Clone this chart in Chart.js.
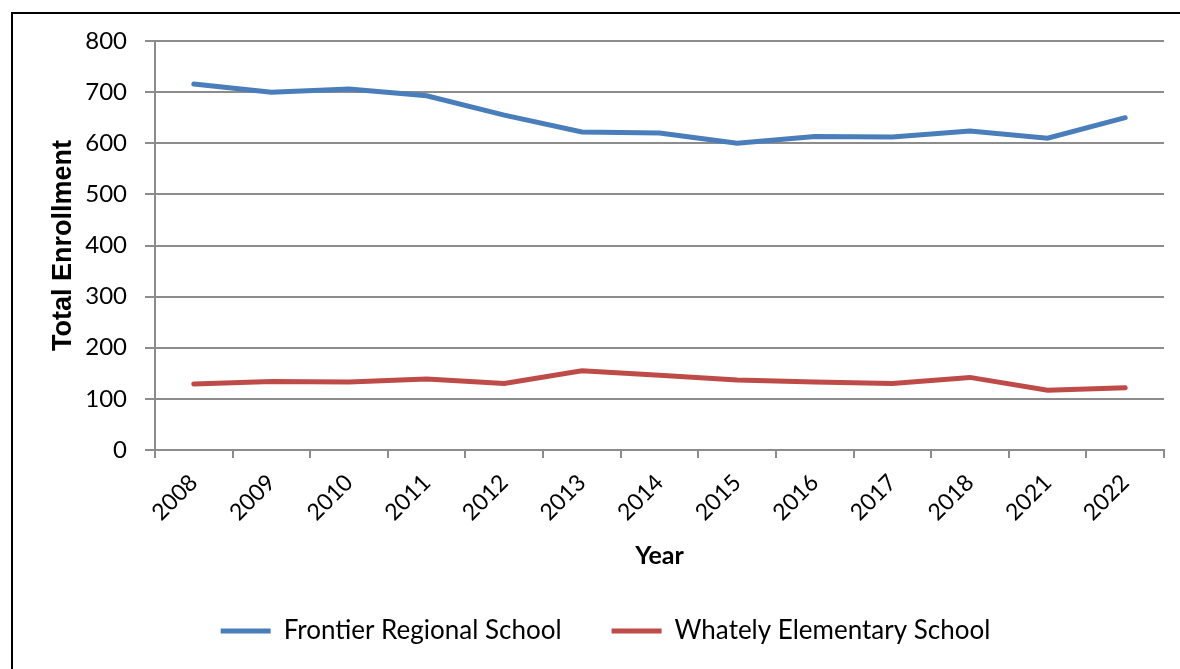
<!DOCTYPE html>
<html>
<head>
<meta charset="utf-8">
<script src="https://cdn.jsdelivr.net/npm/chart.js@4/dist/chart.umd.min.js"></script>
<style>
  html, body { margin: 0; padding: 0; background: #fff; }
  body { width: 1180px; height: 669px; position: relative; overflow: hidden; }
  #frame { position: absolute; left: 11px; top: 12px; width: 1200px; height: 700px;
           border-left: 2px solid #000; border-top: 2px solid #000; }
  #wrap { position: absolute; left: 0; top: 0; width: 1180px; height: 669px; }
</style>
</head>
<body>
<div id="frame"></div>
<div id="wrap"><canvas id="chart"></canvas></div>
<script>
// categories and series
const years = ["2008", "2009", "2010", "2011", "2012", "2013", "2014", "2015", "2016", "2017", "2018", "2021", "2022"];
const frontier = [716, 700, 706, 693, 655, 622, 620, 600, 613, 612, 624, 610, 650];
const whately = [129, 134, 133, 139, 130, 155, 146, 137, 133, 130, 142, 117, 122];
const yTicks = [0, 100, 200, 300, 400, 500, 600, 700, 800];

const FONT = "Lato, 'Open Sans', sans-serif";
const gridGray = "#8c8c8c";

new Chart(document.getElementById("chart"), {
    type: "line",
    data: {
        labels: years,
        datasets: [
            {
                label: "Frontier Regional School",
                data: frontier,
                borderColor: "#4a7ebb",
                backgroundColor: "#4a7ebb",
                borderWidth: 5,
                borderCapStyle: "round",
                pointRadius: 0,
                tension: 0,
            },
            {
                label: "Whately Elementary School",
                data: whately,
                borderColor: "#be4b48",
                backgroundColor: "#be4b48",
                borderWidth: 5,
                borderCapStyle: "round",
                pointRadius: 0,
                tension: 0,
            },
        ],
    },
    options: {
        responsive: true,
        maintainAspectRatio: false,
        animation: false,
        layout: { padding: { top: 41, right: 16, left: 47, bottom: 15 } },
        plugins: {
            tooltip: { enabled: false },
            legend: {
                position: "bottom",
                labels: {
                    color: "#000",
                    font: { family: FONT, size: 26 },
                    usePointStyle: true,
                    pointStyle: "line",
                    pointStyleWidth: 50,
                    boxHeight: 26,
                    padding: 50,
                },
            },
        },
        scales: {
            x: {
                offset: true,
                grid: {
                    offset: true,
                    drawOnChartArea: false,
                    drawTicks: true,
                    tickLength: 8,
                    color: gridGray,
                    lineWidth: 2,
                },
                border: { color: gridGray, width: 2 },
                ticks: {
                    color: "#000",
                    font: { family: FONT, size: 23 },
                    maxRotation: 45,
                    minRotation: 45,
                    padding: 11,
                    autoSkip: false,
                },
                title: {
                    display: true,
                    text: "Year",
                    color: "#000",
                    font: { family: FONT, size: 25, weight: "bold", lineHeight: 1 },
                    padding: { top: 0, bottom: 0 },
                },
                afterFit: (scale) => { scale.height = 118; },
            },
            y: {
                min: 0,
                max: 800,
                afterBuildTicks: (scale) => { scale.ticks = yTicks.map((v) => ({ value: v })); },
                grid: {
                    color: gridGray,
                    lineWidth: 2,
                    drawTicks: true,
                    tickLength: 10,
                },
                border: { color: gridGray, width: 2 },
                ticks: {
                    color: "#000",
                    font: { family: FONT, size: 24 },
                    padding: 18,
                },
                title: {
                    display: true,
                    text: "Total Enrollment",
                    color: "#000",
                    font: { family: "'Liberation Sans', Arial, sans-serif", size: 27, weight: "bold" },
                    padding: { top: 0, bottom: 0 },
                },
                afterFit: (scale) => { scale.width = 108; },
            },
        },
    },
});
</script>
</body>
</html>
